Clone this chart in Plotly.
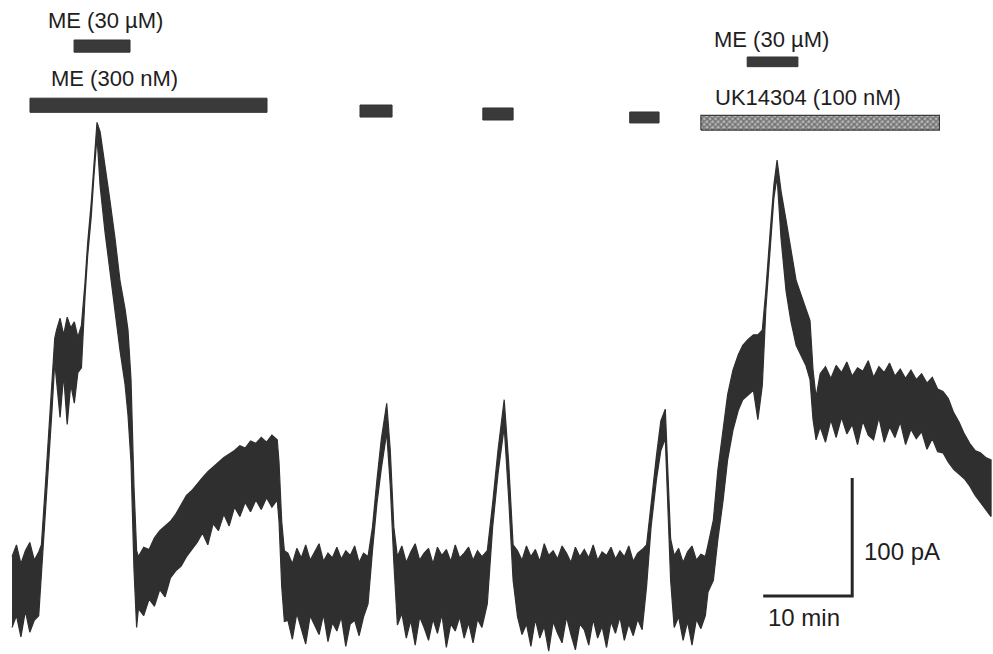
import plotly.graph_objects as go

# ---------------- membrane current trace: noise envelope ----------------
# time in minutes, current in pA (0 = holding baseline)
time_min = [
    0.0, 0.5, 1.0, 1.5, 2.0, 2.5, 3.0,                       # baseline
    3.3, 3.7, 4.1, 4.5, 4.8,                                  # rise (ME 300 nM)
    5.0, 5.4, 5.8, 6.2, 6.6, 7.0, 7.4, 7.8,                   # plateau
    8.2, 8.5, 8.9, 9.2, 9.55,                                 # ME 30 uM peak
    9.9, 10.45, 11.0, 11.57, 12.13, 12.7, 13.03,              # decay
    13.37, 13.7, 14.0,                                        # drop
    14.2, 14.8, 15.4, 16.0, 16.6, 17.2, 17.8, 18.4, 19.0, 19.6,
    20.2, 20.8, 21.4, 22.0, 22.6, 23.2, 23.8, 24.4, 25.0, 25.6,
    26.2, 26.8, 27.4, 28.0, 28.6, 29.2, 29.8,                 # recovery
    30.0, 30.3, 30.6,                                         # washout drop
    31.0, 31.5, 32.0, 32.5, 33.0, 33.5, 34.0, 34.5, 35.0, 35.5,
    36.0, 36.5, 37.0, 37.5, 38.0, 38.5, 39.0, 39.5,           # baseline
    40.0, 40.5, 41.0, 41.5, 42.1, 42.5, 42.9,                 # peak A
    43.3, 43.8, 44.3, 44.8, 45.3, 45.8, 46.3, 46.8, 47.3, 47.8,
    48.3, 48.8, 49.3, 49.8, 50.3, 50.8, 51.3, 51.8, 52.3, 52.8,  # baseline
    53.4, 54.0, 54.6, 55.3, 55.8, 56.3,                       # peak B
    56.8, 57.3, 57.8, 58.3, 58.8, 59.3, 59.8, 60.3, 60.8, 61.3,
    61.8, 62.3, 62.8, 63.3, 63.8, 64.3, 64.8, 65.3, 65.8, 66.3,
    66.8, 67.3, 67.8, 68.3, 68.8, 69.3, 69.8, 70.3, 70.8,     # baseline
    71.3, 71.8, 72.4, 72.9, 73.4, 73.7, 74.0,                 # peak C
    74.4, 74.9, 75.4, 75.9, 76.4, 76.9, 77.4, 77.9,           # baseline
    78.2, 78.8, 79.3, 79.9, 80.4, 81.0, 81.6, 82.1, 82.7, 83.3,
    83.8, 84.3,                                               # rise (UK14304)
    84.7, 85.2, 85.6, 85.96,                                  # ME 30 uM peak
    86.4, 86.97, 87.5, 88.1, 88.65, 89.2, 89.66,              # decay
    90.0, 90.34,                                              # drop
    90.8, 91.4, 92.0, 92.6, 93.2, 93.8, 94.4, 95.0, 95.6, 96.2,
    96.8, 97.4, 98.0, 98.6, 99.2, 99.8, 100.4, 101.0, 101.6, 102.2,
    102.8, 103.4, 104.0, 104.6, 105.2, 105.8, 106.4, 107.0, 107.6, 108.2,
    108.8, 109.4, 110.0,                                      # UK14304 plateau / washout
]
upper_pA = [
    30, 40, 24, 35, 42, 27, 34,
    40, 85, 130, 175, 215,
    222, 232, 218, 233, 224, 229, 216, 226,
    262, 296, 330, 365, 398,
    390, 362, 332, 300, 264, 240, 222,
    180, 90, 35,
    30, 38, 36, 46, 52, 56, 60, 66, 74, 82,
    86, 92, 97, 102, 106, 110, 114, 117, 120, 124,
    122, 128, 126, 131, 127, 133, 129,
    110, 60, 35,
    33, 24, 37, 29, 40, 27, 34, 41, 26, 33,
    29, 38, 28, 35, 31, 39, 25, 33,
    30, 55, 95, 130, 160, 120, 55,
    30, 39, 25, 34, 41, 27, 33, 37, 24, 38,
    31, 36, 26, 40, 29, 33, 38, 27, 35, 30,
    35, 75, 120, 163, 110, 40,
    35, 27, 39, 30, 36, 26, 41, 31, 35, 28,
    39, 33, 25, 38, 30, 36, 29, 40, 27, 34,
    31, 38, 28, 35, 30, 39, 26, 33, 36,
    40, 75, 115, 145, 155, 100, 45,
    31, 37, 25, 34, 39, 27, 32, 30,
    40, 61, 103, 137, 167, 188, 201, 209, 214, 218,
    218, 222,
    256, 307, 345, 366,
    340, 315, 290, 264, 252, 239, 230,
    188, 165,
    185, 191, 181, 192, 186, 195, 183, 190, 187, 196,
    182, 191, 186, 194, 183, 189, 181, 188, 180, 185,
    177, 182, 172, 170, 164, 152, 144, 134, 126, 120,
    118, 114, 112,
]
lower_pA = [
    -30, -20, -38, -16, -34, -24, -20,
    22, 65, 110, 155, 195,
    178, 148, 184, 142, 176, 160, 186, 190,
    250, 285, 318, 352, 386,
    344, 305, 270, 239, 205, 176, 150,
    110, 20, -30,
    -14, -20, -6, -12, 2, -4, 12, 18, 22, 30,
    36, 42, 50, 40, 58, 52, 66, 56, 72, 64,
    76, 68, 78, 70, 80, 72, 78,
    60, 5, -25,
    -24, -40, -18, -30, -44, -20, -28, -36, -19, -42,
    -26, -33, -21, -46, -27, -24, -37, -21,
    -10, 35, 75, 105, 135, 90, 25,
    -28, -18, -39, -24, -45, -21, -30, -41, -23, -35,
    -19, -47, -27, -33, -21, -39, -26, -43, -23, -30,
    -10, 55, 100, 140, 80, 10,
    -21, -36, -27, -46, -23, -39, -29, -50, -25, -35,
    -43, -21, -36, -49, -27, -32, -45, -23, -39, -29,
    -47, -25, -35, -21, -41, -27, -37, -23, -32,
    5, 55, 95, 120, 130, 70, 10,
    -30, -21, -41, -25, -45, -23, -31, -20,
    0, 10, 44, 78, 112, 137, 154, 163, 167, 171,
    146, 175,
    240, 295, 334, 352,
    300, 255, 230, 209, 201, 192, 180,
    146, 129,
    140, 127, 146, 131, 148, 134, 142, 125, 145, 133,
    129, 148, 127, 140, 131, 144, 125, 138, 130, 136,
    121, 130, 119, 118, 110, 104, 100, 96, 90, 82,
    76, 70, 64,
]
assert len(time_min) == len(upper_pA) == len(lower_pA)

# ---------------- drug application bars ----------------
bar_start_min = [6.97, 2.02, 39.1, 52.9, 69.4, 82.6]
bar_end_min = [13.26, 28.65, 42.7, 56.3, 72.7, 88.3]
bar_top_pA = [467.8, 418.5, 412.7, 410.2, 406.8, 453.4]
bar_bottom_pA = [457.5, 406.5, 402.5, 400.0, 397.5, 445.2]

uk_start_min, uk_end_min = 77.4, 104.2
uk_top_pA, uk_bottom_pA = 404.0, 391.5

label_text = ["ME (30 µM)", "ME (300 nM)", "ME (30 µM)", "UK14304 (100 nM)"]
label_t = [3.8, 4.1, 78.6, 78.8]
label_pA = [484, 435, 468, 419]

# ---------------- scale bars ----------------
scale_t0, scale_len_min = 84.4, 10
scale_pA0, scale_len_pA = -3.4, 100

INK = "#2f2f2f"
FONT = "Liberation Sans, Arial, sans-serif"

fig = go.Figure()

# trace envelope polygon
fig.add_trace(go.Scatter(
    x=time_min + time_min[::-1],
    y=upper_pA + lower_pA[::-1],
    mode="lines", fill="toself", fillcolor=INK,
    line=dict(color=INK, width=1.2), hoverinfo="skip", showlegend=False))

# solid drug bars
for s, e, top, bot in zip(bar_start_min, bar_end_min, bar_top_pA, bar_bottom_pA):
    fig.add_trace(go.Scatter(
        x=[s, e, e, s, s], y=[bot, bot, top, top, bot],
        mode="lines", fill="toself", fillcolor="#3a3a3a",
        line=dict(color="#333333", width=1), hoverinfo="skip", showlegend=False))

# hatched UK14304 bar
fig.add_trace(go.Scatter(
    x=[uk_start_min, uk_end_min, uk_end_min, uk_start_min, uk_start_min],
    y=[uk_bottom_pA, uk_bottom_pA, uk_top_pA, uk_top_pA, uk_bottom_pA],
    mode="lines", fill="toself", fillcolor="rgba(0,0,0,0)",
    fillpattern=dict(shape="x", size=4, solidity=0.6, fgcolor="#262626", bgcolor="#b8b8b8"),
    line=dict(color="#3a3a3a", width=1.2), hoverinfo="skip", showlegend=False))

# scale bars
fig.add_trace(go.Scatter(
    x=[scale_t0, scale_t0 + scale_len_min, scale_t0 + scale_len_min],
    y=[scale_pA0, scale_pA0, scale_pA0 + scale_len_pA],
    mode="lines", line=dict(color="#262626", width=3), hoverinfo="skip", showlegend=False))

for txt, t, p in zip(label_text, label_t, label_pA):
    fig.add_annotation(x=t, y=p, text=txt, showarrow=False, xanchor="left", yanchor="middle",
                       font=dict(family=FONT, size=22, color="#1e1e1e"))

fig.add_annotation(x=scale_t0 + scale_len_min + 1.1, y=scale_pA0 + 38, text=f"{scale_len_pA} pA",
                   showarrow=False, xanchor="left", yanchor="middle",
                   font=dict(family=FONT, size=24, color="#1e1e1e"))
fig.add_annotation(x=scale_t0 + 0.3, y=scale_pA0 - 18, text=f"{scale_len_min} min",
                   showarrow=False, xanchor="left", yanchor="middle",
                   font=dict(family=FONT, size=24, color="#1e1e1e"))

fig.update_layout(
    width=993, height=654, margin=dict(l=0, r=0, t=0, b=0),
    paper_bgcolor="white", plot_bgcolor="white",
    xaxis=dict(range=[-1.35, 110.22], visible=False, fixedrange=True),
    yaxis=dict(range=[-52.5, 501.7], visible=False, fixedrange=True),
    showlegend=False,
)

fig.write_html("out.html")
